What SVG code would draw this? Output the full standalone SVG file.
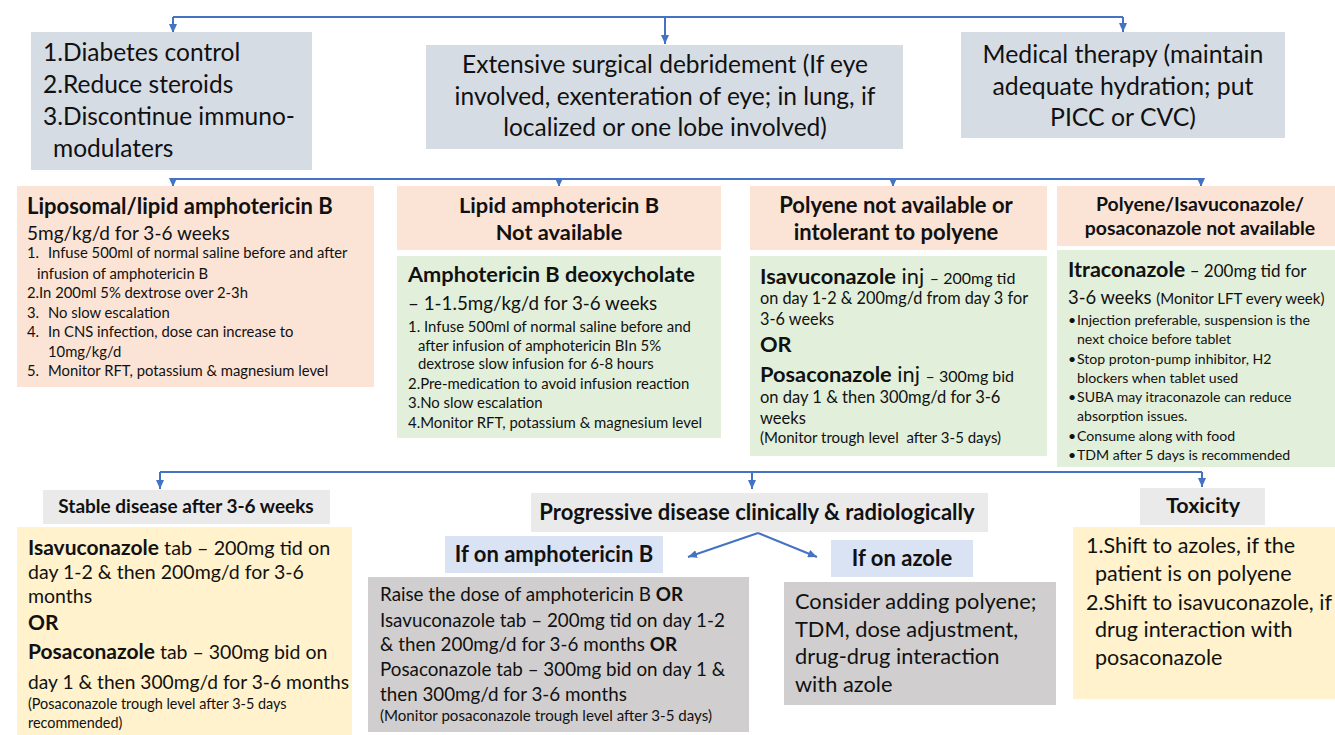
<svg xmlns="http://www.w3.org/2000/svg" width="1335" height="735" viewBox="0 0 1335 735">
<style>
text{font-family:Lato,"Liberation Sans",sans-serif;fill:#111}
.b{font-weight:bold}
.c{text-anchor:middle}
.gb{fill:#D6DCE4}
.pe{fill:#FBE3D5}
.gr{fill:#E2EFDA}
.ye{fill:#FFF2CC}
.lg{fill:#EAEAEA}
.dg{fill:#D0CECE}
.lb{fill:#DAE3F3}
.con{stroke:#4472C4;stroke-width:2;fill:none}
</style>
<defs>
<marker id="ah" markerUnits="userSpaceOnUse" markerWidth="9" markerHeight="8" refX="9" refY="4" orient="auto">
<path d="M0,0 L9,4 L0,8 z" fill="#4472C4"/>
</marker>
</defs>
<rect width="1335" height="735" fill="#fff"/>

<g id="connectors">
<path class="con" d="M173,17 H1123"/>
<path class="con" d="M173,17 V33" marker-end="url(#ah)"/>
<path class="con" d="M665,17 V44" marker-end="url(#ah)"/>
<path class="con" d="M1123,17 V32" marker-end="url(#ah)"/>
<path class="con" d="M173,179 H1202"/>
<path class="con" d="M173,179 V187" marker-end="url(#ah)"/>
<path class="con" d="M559,179 V187" marker-end="url(#ah)"/>
<path class="con" d="M893,179 V187" marker-end="url(#ah)"/>
<path class="con" d="M1201,179 V187" marker-end="url(#ah)"/>
<path class="con" d="M160,472 H1202"/>
<path class="con" d="M160,472 V489" marker-end="url(#ah)"/>
<path class="con" d="M752,472 V489" marker-end="url(#ah)"/>
<path class="con" d="M1202,472 V487" marker-end="url(#ah)"/>
<path class="con" d="M758,533 L688,557" marker-end="url(#ah)"/>
<path class="con" d="M758,533 L817,557" marker-end="url(#ah)"/>
</g>

<g id="n-control">
<rect class="gb" x="31" y="32" width="281" height="138"/>
<text x="43" y="61" font-size="24.5">1.Diabetes control</text>
<text x="43" y="93" font-size="24.5">2.Reduce steroids</text>
<text x="43" y="125" font-size="24.5">3.Discontinue immuno-</text>
<text x="53" y="157" font-size="24.5">modulaters</text>
</g>

<g id="n-surgery">
<rect class="gb" x="426" y="45" width="477" height="104"/>
<text class="c" x="665" y="73" font-size="24.5">Extensive surgical debridement (If eye</text>
<text class="c" x="665" y="105" font-size="24.5">involved, exenteration of eye; in lung, if</text>
<text class="c" x="665" y="136" font-size="24.5">localized or one lobe involved)</text>
</g>

<g id="n-medical">
<rect class="gb" x="961" y="32" width="324" height="106"/>
<text class="c" x="1123" y="63" font-size="24.8">Medical therapy (maintain</text>
<text class="c" x="1123" y="95" font-size="24.8">adequate hydration; put</text>
<text class="c" x="1123" y="126" font-size="24.8">PICC or CVC)</text>
</g>

<g id="n-liposomal">
<rect class="pe" x="17" y="186" width="357" height="201"/>
<text class="b" x="27" y="214" font-size="22">Liposomal/lipid amphotericin B</text>
<text x="27" y="240" font-size="19">5mg/kg/d for 3-6 weeks</text>
<g font-size="14.8">
<text x="27" y="258">1.<tspan x="48">Infuse 500ml of normal saline before and after</tspan></text>
<text x="37" y="279">infusion of amphotericin B</text>
<text x="27" y="298">2.In 200ml 5% dextrose over 2-3h</text>
<text x="27" y="318">3.<tspan x="48">No slow escalation</tspan></text>
<text x="27" y="337">4.<tspan x="48">In CNS infection, dose can increase to</tspan></text>
<text x="48" y="357">10mg/kg/d</text>
<text x="27" y="376">5.<tspan x="48">Monitor RFT, potassium &amp; magnesium level</tspan></text>
</g>
</g>

<g id="n-lipid-na">
<rect class="pe" x="397" y="186" width="324" height="64"/>
<text class="b c" x="559" y="213" font-size="21.8">Lipid amphotericin B</text>
<text class="b c" x="559" y="240" font-size="21.8">Not available</text>
</g>

<g id="n-deoxycholate">
<rect class="gr" x="397" y="256" width="324" height="182"/>
<text class="b" x="408" y="282" font-size="21.8">Amphotericin B deoxycholate</text>
<text x="408" y="310" font-size="18.8">– 1-1.5mg/kg/d for 3-6 weeks</text>
<g font-size="14.9">
<text x="408" y="332">1. Infuse 500ml of normal saline before and</text>
<text x="418" y="351">after infusion of amphotericin BIn 5%</text>
<text x="418" y="369">dextrose slow infusion for 6-8 hours</text>
<text x="408" y="389">2.Pre-medication to avoid infusion reaction</text>
<text x="408" y="408">3.No slow escalation</text>
<text x="408" y="428">4.Monitor RFT, potassium &amp; magnesium level</text>
</g>
</g>

<g id="n-polyene-na">
<rect class="pe" x="750" y="186" width="297" height="64"/>
<text class="b c" x="896" y="213" font-size="22">Polyene not available or</text>
<text class="b c" x="896" y="240" font-size="22">intolerant to polyene</text>
</g>

<g id="n-isavu-inj">
<rect class="gr" x="750" y="256" width="297" height="200"/>
<text x="760" y="284" font-size="21.8"><tspan class="b">Isavuconazole</tspan> inj <tspan font-size="16">– 200mg tid</tspan></text>
<text x="760" y="304" font-size="16.3">on day 1-2 &amp; 200mg/d from day 3 for</text>
<text x="760" y="325" font-size="16.3">3-6 weeks</text>
<text class="b" x="760" y="352" font-size="21.8">OR</text>
<text x="760" y="382" font-size="21.8"><tspan class="b">Posaconazole</tspan> inj <tspan font-size="16">– 300mg bid</tspan></text>
<text x="760" y="403" font-size="16.5">on day 1 &amp; then 300mg/d for 3-6</text>
<text x="760" y="424" font-size="16.5">weeks</text>
<text x="760" y="443" font-size="15" xml:space="preserve">(Monitor trough level  after 3-5 days)</text>
</g>

<g id="n-all-na">
<rect class="pe" x="1057" y="186" width="278" height="60"/>
<text class="b c" x="1200" y="211" font-size="19.4">Polyene/Isavuconazole/</text>
<text class="b c" x="1200" y="235" font-size="19.4">posaconazole not available</text>
</g>

<g id="n-itraconazole">
<rect class="gr" x="1057" y="250" width="278" height="217"/>
<text x="1068" y="277" font-size="17"><tspan class="b" font-size="21.5">Itraconazole</tspan> – 200mg tid for</text>
<text x="1068" y="304" font-size="18.4">3-6 weeks <tspan font-size="15">(Monitor LFT every week)</tspan></text>
<g font-size="14.1">
<text x="1068" y="325">•<tspan x="1077">Injection preferable, suspension is the</tspan></text>
<text x="1077" y="344">next choice before tablet</text>
<text x="1068" y="364">•<tspan x="1077">Stop proton-pump inhibitor, H2</tspan></text>
<text x="1077" y="383">blockers when tablet used</text>
<text x="1068" y="402">•<tspan x="1077">SUBA may itraconazole can reduce</tspan></text>
<text x="1077" y="421">absorption issues.</text>
<text x="1068" y="441">•<tspan x="1077">Consume along with food</tspan></text>
<text x="1068" y="460">•<tspan x="1077">TDM after 5 days is recommended</tspan></text>
</g>
</g>

<g id="n-stable">
<rect class="lg" x="43" y="490" width="287" height="34"/>
<text class="b c" x="186" y="513" font-size="19">Stable disease after 3-6 weeks</text>
</g>

<g id="n-stable-tx">
<rect class="ye" x="17" y="527" width="335" height="208"/>
<text x="28" y="555" font-size="19.8"><tspan class="b" font-size="21">Isavuconazole</tspan> tab – 200mg tid on</text>
<text x="28" y="579" font-size="19.5">day 1-2 &amp; then 200mg/d for 3-6</text>
<text x="28" y="603" font-size="19.5">months</text>
<text class="b" x="28" y="630" font-size="21">OR</text>
<text x="28" y="659" font-size="19.5"><tspan class="b" font-size="21">Posaconazole</tspan> tab – 300mg bid on</text>
<text x="28" y="689" font-size="19.2">day 1 &amp; then 300mg/d for 3-6 months</text>
<text x="28" y="709" font-size="14.4">(Posaconazole trough level after 3-5 days</text>
<text x="28" y="728" font-size="14.4">recommended)</text>
</g>

<g id="n-progressive">
<rect class="lg" x="531" y="493" width="457" height="39"/>
<text class="b c" x="757" y="520" font-size="22">Progressive disease clinically &amp; radiologically</text>
</g>

<g id="n-on-ampho">
<rect class="lb" x="445" y="536" width="218" height="37"/>
<text class="b c" x="554" y="562" font-size="22">If on amphotericin B</text>
</g>

<g id="n-ampho-tx">
<rect class="dg" x="368" y="577" width="381" height="155"/>
<text x="380" y="601" font-size="18.8">Raise the dose of amphotericin B <tspan class="b">OR</tspan></text>
<text x="380" y="627" font-size="18.8">Isavuconazole tab – 200mg tid on day 1-2</text>
<text x="380" y="651" font-size="18.8">&amp; then 200mg/d for 3-6 months <tspan class="b">OR</tspan></text>
<text x="380" y="676" font-size="18.8">Posaconazole tab – 300mg bid on day 1 &amp;</text>
<text x="380" y="701" font-size="18.8">then 300mg/d for 3-6 months</text>
<text x="380" y="721" font-size="15.1">(Monitor posaconazole trough level after 3-5 days)</text>
</g>

<g id="n-on-azole">
<rect class="lb" x="831" y="540" width="142" height="37"/>
<text class="b c" x="902" y="566" font-size="22">If on azole</text>
</g>

<g id="n-azole-tx">
<rect class="dg" x="784" y="582" width="272" height="123"/>
<text x="795" y="609" font-size="21.8">Consider adding polyene;</text>
<text x="795" y="637" font-size="21.8">TDM, dose adjustment,</text>
<text x="795" y="664" font-size="21.8">drug-drug interaction</text>
<text x="795" y="692" font-size="21.8">with azole</text>
</g>

<g id="n-toxicity">
<rect class="lg" x="1140" y="488" width="125" height="37"/>
<text class="b c" x="1203" y="513" font-size="21.5">Toxicity</text>
</g>

<g id="n-toxicity-tx">
<rect class="ye" x="1073" y="527" width="262" height="172"/>
<text x="1086" y="553" font-size="21.5">1.Shift to azoles, if the</text>
<text x="1095" y="581" font-size="21.5">patient is on polyene</text>
<text x="1086" y="610" font-size="21.5">2.Shift to isavuconazole, if</text>
<text x="1095" y="637" font-size="21.5">drug interaction with</text>
<text x="1095" y="665" font-size="21.5">posaconazole</text>
</g>
</svg>
